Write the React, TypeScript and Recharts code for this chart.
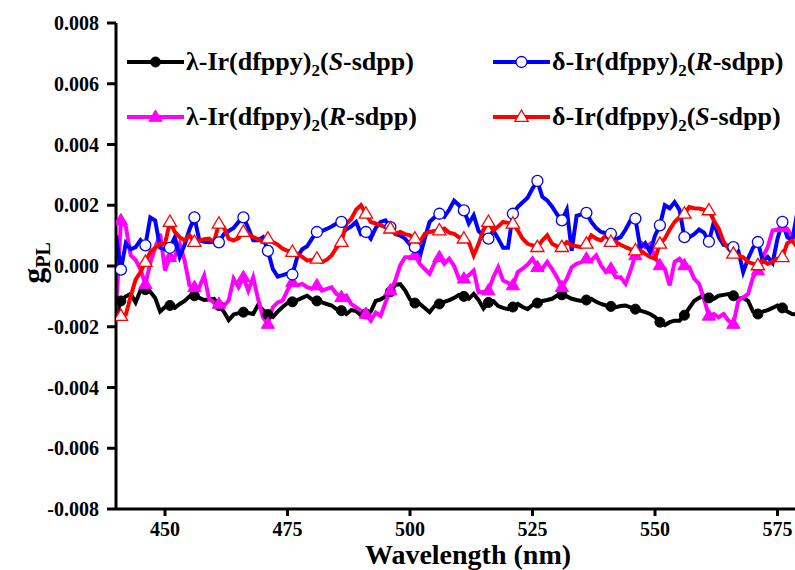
import React from 'react';
import { LineChart, Line, XAxis, YAxis, Legend } from 'recharts';

// Wavelength grid (nm)
const wavelengths = Array.from({ length: 140 }, (_, i) => 440 + i);

// λ-Ir(dfppy)2(S-sdpp) — black, filled circles
const lambdaS = [
  -0.00165, -0.00115, -0.0010, -0.00092, -0.0012, -0.0008, -0.00078, -0.00085, -0.00105, -0.0015,
  -0.00135, -0.0013, -0.00138, -0.00125, -0.00115, -0.0010, -0.00098, -0.00105, -0.00112, -0.0011,
  -0.00108, -0.0013, -0.0015, -0.00178, -0.0016, -0.00155, -0.00152, -0.00155, -0.00158, -0.00128,
  -0.00145, -0.0016, -0.00168, -0.0015, -0.00135, -0.00122, -0.00118, -0.00112, -0.00105, -0.00098,
  -0.0011, -0.00115, -0.0012, -0.00125, -0.0013, -0.00142, -0.00147, -0.00158, -0.00145, -0.00148,
  -0.00162, -0.00158, -0.0015, -0.00115, -0.0011, -0.0010, -0.00085, -0.00062, -0.0006, -0.0008,
  -0.0011, -0.00122, -0.00125, -0.00138, -0.00152, -0.00132, -0.00125, -0.00118, -0.00112, -0.00105,
  -0.00095, -0.0010, -0.00108, -0.00092, -0.00112, -0.0014, -0.0012, -0.00115, -0.00132, -0.00138,
  -0.00142, -0.00135, -0.00125, -0.00135, -0.00142, -0.00128, -0.00122, -0.00115, -0.00112, -0.00108,
  -0.00098, -0.00095, -0.0010, -0.00108, -0.00112, -0.00115, -0.00112, -0.00108, -0.00118, -0.00125,
  -0.0013, -0.00133, -0.00136, -0.00132, -0.0013, -0.00136, -0.00142, -0.00147, -0.00152, -0.00158,
  -0.00168, -0.00185, -0.00195, -0.00185, -0.0018, -0.0018, -0.00162, -0.00138, -0.00115, -0.00105,
  -0.00098, -0.00105, -0.00108, -0.00098, -0.00095, -0.00092, -0.00098, -0.00108, -0.00105, -0.00115,
  -0.0015, -0.00158, -0.0015, -0.00145, -0.00138, -0.0013, -0.00138, -0.0015, -0.00158, -0.0016,
];

// δ-Ir(dfppy)2(R-sdpp) — blue, open circles
const deltaR = [
  0.0010, -0.00012, 0.00075, 0.00055, 0.00062, 0.00085, 0.00068, 0.0016, 0.0015, 0.0006,
  0.00055, 0.0006, 0.00095, 0.0003, 0.0007, 0.0012, 0.0016, 0.00085, 0.0008, 0.00078,
  0.0008, 0.00078, 0.00105, 0.00115, 0.00125, 0.00145, 0.0016, 0.00125, 0.00085, 0.00085,
  0.00095, 0.0005, -0.0001, -0.00035, -0.0003, -0.00025, -0.00028, 0.0003, 0.00055, 0.00065,
  0.0009, 0.00112, 0.00115, 0.00122, 0.0013, 0.0014, 0.00145, 0.0012, 0.0013, 0.00145,
  0.00105, 0.00112, 0.0009, 0.00125, 0.00145, 0.0015, 0.00128, 0.00105, 0.0010, 0.0009,
  0.0007, 0.00062, 0.0003, 0.0009, 0.00145, 0.0016, 0.00172, 0.00162, 0.00185, 0.00215,
  0.0020, 0.00183, 0.0014, 0.00167, 0.00115, 0.0010, 0.0009, 0.00117, 0.0009, 0.0006,
  0.0006, 0.00172, 0.00195, 0.0021, 0.00225, 0.00255, 0.0028, 0.00228, 0.00216, 0.00195,
  0.0017, 0.0015, 0.00185, 0.0005, 0.00165, 0.0017, 0.00175, 0.00145, 0.00125, 0.00112,
  0.00108, 0.00106, 0.00088, 0.00095, 0.0012, 0.0015, 0.00156, 0.0006, 0.00075, 0.00046,
  0.0010, 0.00134, 0.0020, 0.0019, 0.0021, 0.00185, 0.00095, 0.00095, 0.00105, 0.0012,
  0.0011, 0.0008, 0.00145, 0.00095, 0.0007, 0.00065, 0.00062, 0.0005, -0.0002, 0.00025,
  0.0006, 0.00079, 0.00015, 0.0003, 0.0001, 0.0009, 0.00145, 0.00095, 0.00085, 0.00172,
];

// λ-Ir(dfppy)2(R-sdpp) — magenta, filled triangles
const lambdaR = [
  -0.0015, 0.0015, 0.0013, 0.00035, 0.0002, -0.00012, -0.0006, 0.0001, 0.0006, 0.00106,
  -0.00015, 0.00029, 0.0003, 0.00073, 0.00018, -0.00064, -0.0007, -0.0007, -0.00031, -0.00109,
  -0.0012, -0.00125, -0.00131, -0.00114, -0.00042, -0.0007, -0.00037, -0.00081, -0.00037, -0.00109,
  -0.00169, -0.00191, -0.00136, -0.0012, -0.00114, -0.0008, -0.00053, -0.00064, -0.00059, -0.0007,
  -0.00075, -0.00064, -0.00081, -0.00075, -0.0007, -0.00092, -0.00103, -0.00097, -0.00125, -0.00136,
  -0.00147, -0.00158, -0.0018, -0.00153, -0.00164, -0.0012, -0.00081, -0.00048, 0.00002, 0.00029,
  0.0003, 0.00035, 0.00007, -0.0001, -0.00026, 0.0001, 0.00029, 0.00007, 0.00024, 0.0,
  -0.00042, -0.00042, -0.0003, -0.00015, -0.00087, -0.00085, -0.00081, -0.00037, -0.00004, -0.00048,
  -0.00055, -0.00064, -0.0002, -0.00009, 0.00005, 0.00024, -0.00004, -0.00009, 0.00013, -0.0001,
  -0.00037, -0.0007, -0.00042, -0.00004, 0.00007, 0.00013, 0.00024, 0.00018, 0.00035, 0.00002,
  -0.0002, -0.00009, -0.00037, -0.00037, -0.00059, -0.00015, 0.00035, 0.00079, 0.00062, 0.00073,
  0.00029, 0.00002, -0.00009, -0.00064, 0.00013, 0.00024, 0.00002, -0.00004, -0.00042, -0.00059,
  -0.00109, -0.00164, -0.00158, -0.00169, -0.00158, -0.0018, -0.00191, -0.00114, -0.00103, -0.00092,
  -0.00037, -0.00015, 0.00029, 0.00062, 0.00117, 0.0012, 0.00128, 0.00123, 0.00095, 0.00095,
];

// δ-Ir(dfppy)2(S-sdpp) — red, open triangles
const deltaS = [
  -0.00147, -0.00165, -0.0016, -0.0010, -0.00045, -0.0002, 0.00013, 0.00046, 0.0006, 0.00073,
  0.00073, 0.00145, 0.00112, 0.00095, 0.00084, 0.00101, 0.00079, 0.00084, 0.00088, 0.0009,
  0.00079, 0.00139, 0.00128, 0.0009, 0.00084, 0.00092, 0.00112, 0.00106, 0.00095, 0.00088,
  0.00079, 0.0009, 0.00079, 0.0007, 0.00057, 0.0005, 0.00046, 0.0004, 0.0003, 0.00018,
  0.0002, 0.00024, 0.00013, 0.0002, 0.00035, 0.0006, 0.00079, 0.00139, 0.00155, 0.00185,
  0.0020, 0.00172, 0.00145, 0.0014, 0.00134, 0.00128, 0.00123, 0.00106, 0.00112, 0.00105,
  0.00101, 0.0009, 0.00079, 0.00106, 0.00112, 0.00115, 0.00117, 0.00123, 0.0011, 0.00106,
  0.00095, 0.0009, 0.00079, 0.00035, 0.00073, 0.0012, 0.00145, 0.00117, 0.0013, 0.00145,
  0.00142, 0.00139, 0.00117, 0.0009, 0.00073, 0.00068, 0.00062, 0.00084, 0.00101, 0.00073,
  0.00065, 0.00062, 0.00079, 0.00068, 0.00065, 0.00062, 0.00073, 0.00101, 0.0009, 0.00084,
  0.00101, 0.00079, 0.00079, 0.0007, 0.00062, 0.00055, 0.00051, 0.00051, 0.0004, 0.0003,
  0.00024, 0.00073, 0.0009, 0.0012, 0.00145, 0.0016, 0.00172, 0.00194, 0.0019, 0.00189,
  0.00185, 0.00183, 0.0015, 0.00123, 0.0008, 0.00057, 0.0004, 0.00035, 0.00029, 0.00013,
  0.00008, 0.00002, 0.00018, 0.00007, 0.00015, 0.00024, 0.00029, 0.00075, 0.00084, 0.00062,
];

const xTicks = [450, 475, 500, 525, 550, 575];
const yTicks = [-0.008, -0.006, -0.004, -0.002, 0, 0.002, 0.004, 0.006, 0.008];

const data = wavelengths.map((wl, i) => ({
  wl,
  lS: lambdaS[i],
  dR: deltaR[i],
  lR: lambdaR[i],
  dS: deltaS[i],
}));

const FONT = "'Liberation Serif', 'Times New Roman', serif";
const BLACK = '#000000';
const BLUE = '#0000FF';
const MAGENTA = '#FF00FF';
const RED = '#FF0000';

type Kind = 'fcircle' | 'ocircle' | 'ftri' | 'otri';

const markerShape = (kind: Kind, color: string, cx: number, cy: number, key?: string) => {
  if (kind === 'fcircle') return <circle key={key} cx={cx} cy={cy} r={5} fill={color} stroke={color} strokeWidth={1} />;
  if (kind === 'ocircle') return <circle key={key} cx={cx} cy={cy} r={5.5} fill="#fff" stroke={color} strokeWidth={1.3} />;
  const s = 7;
  const pts = `${cx},${cy - s} ${cx - s * 0.95},${cy + s * 0.62} ${cx + s * 0.95},${cy + s * 0.62}`;
  if (kind === 'ftri') return <polygon key={key} points={pts} fill={color} stroke={color} strokeWidth={1} />;
  return <polygon key={key} points={pts} fill="#fff" stroke={color} strokeWidth={1.3} />;
};

const makeDot = (kind: Kind, color: string) => (props: any) => {
  const { cx, cy, index } = props;
  const key = `m-${kind}-${index}`;
  if (cx == null || cy == null || index % 5 !== 1) return <g key={key} />;
  return markerShape(kind, color, cx, cy, key);
};

const legendItems = [
  { kind: 'fcircle' as Kind, color: BLACK, left: 127, top: 62, prefix: 'λ-Ir(dfppy)', chir: 'S' },
  { kind: 'ocircle' as Kind, color: BLUE, left: 493, top: 62, prefix: 'δ-Ir(dfppy)', chir: 'R' },
  { kind: 'ftri' as Kind, color: MAGENTA, left: 127, top: 117, prefix: 'λ-Ir(dfppy)', chir: 'R' },
  { kind: 'otri' as Kind, color: RED, left: 493, top: 117, prefix: 'δ-Ir(dfppy)', chir: 'S' },
];

const renderLegend = () => (
  <div style={{ position: 'relative', width: 795, height: 150 }}>
    {legendItems.map((it, i) => (
      <div
        key={i}
        style={{
          position: 'absolute',
          left: it.left,
          top: it.top - 16,
          height: 32,
          display: 'flex',
          alignItems: 'center',
          whiteSpace: 'nowrap',
        }}
      >
        <svg width={57} height={32} style={{ display: 'block' }}>
          <line x1={0} y1={16} x2={57} y2={16} stroke={it.color} strokeWidth={4} />
          {markerShape(it.kind, it.color, 28.5, 16)}
        </svg>
        <span
          style={{
            marginLeft: 2,
            fontFamily: FONT,
            fontWeight: 'bold',
            fontSize: 26,
            color: '#000',
            lineHeight: '32px',
          }}
        >
          {it.prefix}
          <sub style={{ fontSize: 17, lineHeight: 0, verticalAlign: '-6px' }}>2</sub>(
          <i>{it.chir}</i>-sdpp)
        </span>
      </div>
    ))}
  </div>
);

const YLabel = () => (
  <text
    x={44}
    y={263}
    transform="rotate(-90, 44, 263)"
    textAnchor="middle"
    fontWeight="bold"
    fill="#000"
    style={{ fontFamily: FONT }}
  >
    <tspan fontSize={32}>g</tspan>
    <tspan fontSize={20} dy={6}>PL</tspan>
  </text>
);

const XLabel = () => (
  <text x={468} y={564} textAnchor="middle" fontWeight="bold" fontSize={28} fill="#000" style={{ fontFamily: FONT }}>
    Wavelength (nm)
  </text>
);

const tickStyle = { fill: '#000', fontSize: 20, fontWeight: 'bold', fontFamily: FONT, style: { fontFamily: FONT } };

export default function App() {
  return (
    <div
      style={{
        position: 'absolute',
        left: 0,
        top: 0,
        width: 795,
        height: 570,
        overflow: 'hidden',
        background: '#fff',
        fontFamily: FONT,
      }}
    >
      <LineChart width={805} height={570} data={data} margin={{ top: 23, right: 3, bottom: 0, left: 0 }} style={{ fontFamily: FONT }}>
        <XAxis
          dataKey="wl"
          type="number"
          domain={[440, 580]}
          ticks={xTicks}
          allowDataOverflow
          height={61}
          axisLine={{ stroke: '#000', strokeWidth: 3 }}
          tickLine={{ stroke: '#000', strokeWidth: 3 }}
          tickSize={7}
          tickMargin={6}
          tick={tickStyle}
          label={{ content: () => <XLabel /> }}
        />
        <XAxis
          xAxisId="top"
          dataKey="wl"
          type="number"
          orientation="top"
          domain={[440, 580]}
          height={0}
          tick={false}
          tickLine={false}
          axisLine={{ stroke: '#000', strokeWidth: 3 }}
        />
        <YAxis
          type="number"
          domain={[-0.008, 0.008]}
          ticks={yTicks}
          width={116}
          allowDataOverflow
          axisLine={{ stroke: '#000', strokeWidth: 3 }}
          tickLine={{ stroke: '#000', strokeWidth: 3 }}
          tickSize={9}
          tickMargin={8}
          tickFormatter={(v: number) => v.toFixed(3)}
          tick={tickStyle}
          label={{ content: () => <YLabel /> }}
        />
        <Line dataKey="lS" type="linear" stroke={BLACK} strokeWidth={4} dot={makeDot('fcircle', BLACK)} activeDot={false} isAnimationActive={false} />
        <Line dataKey="lR" type="linear" stroke={MAGENTA} strokeWidth={4} dot={makeDot('ftri', MAGENTA)} activeDot={false} isAnimationActive={false} />
        <Line dataKey="dR" type="linear" stroke={BLUE} strokeWidth={4} dot={makeDot('ocircle', BLUE)} activeDot={false} isAnimationActive={false} />
        <Line dataKey="dS" type="linear" stroke={RED} strokeWidth={4} dot={makeDot('otri', RED)} activeDot={false} isAnimationActive={false} />
        <Legend
          layout="horizontal"
          verticalAlign="middle"
          align="center"
          wrapperStyle={{ left: 0, top: 0, width: 795, height: 150 }}
          content={renderLegend}
        />
      </LineChart>
    </div>
  );
}
